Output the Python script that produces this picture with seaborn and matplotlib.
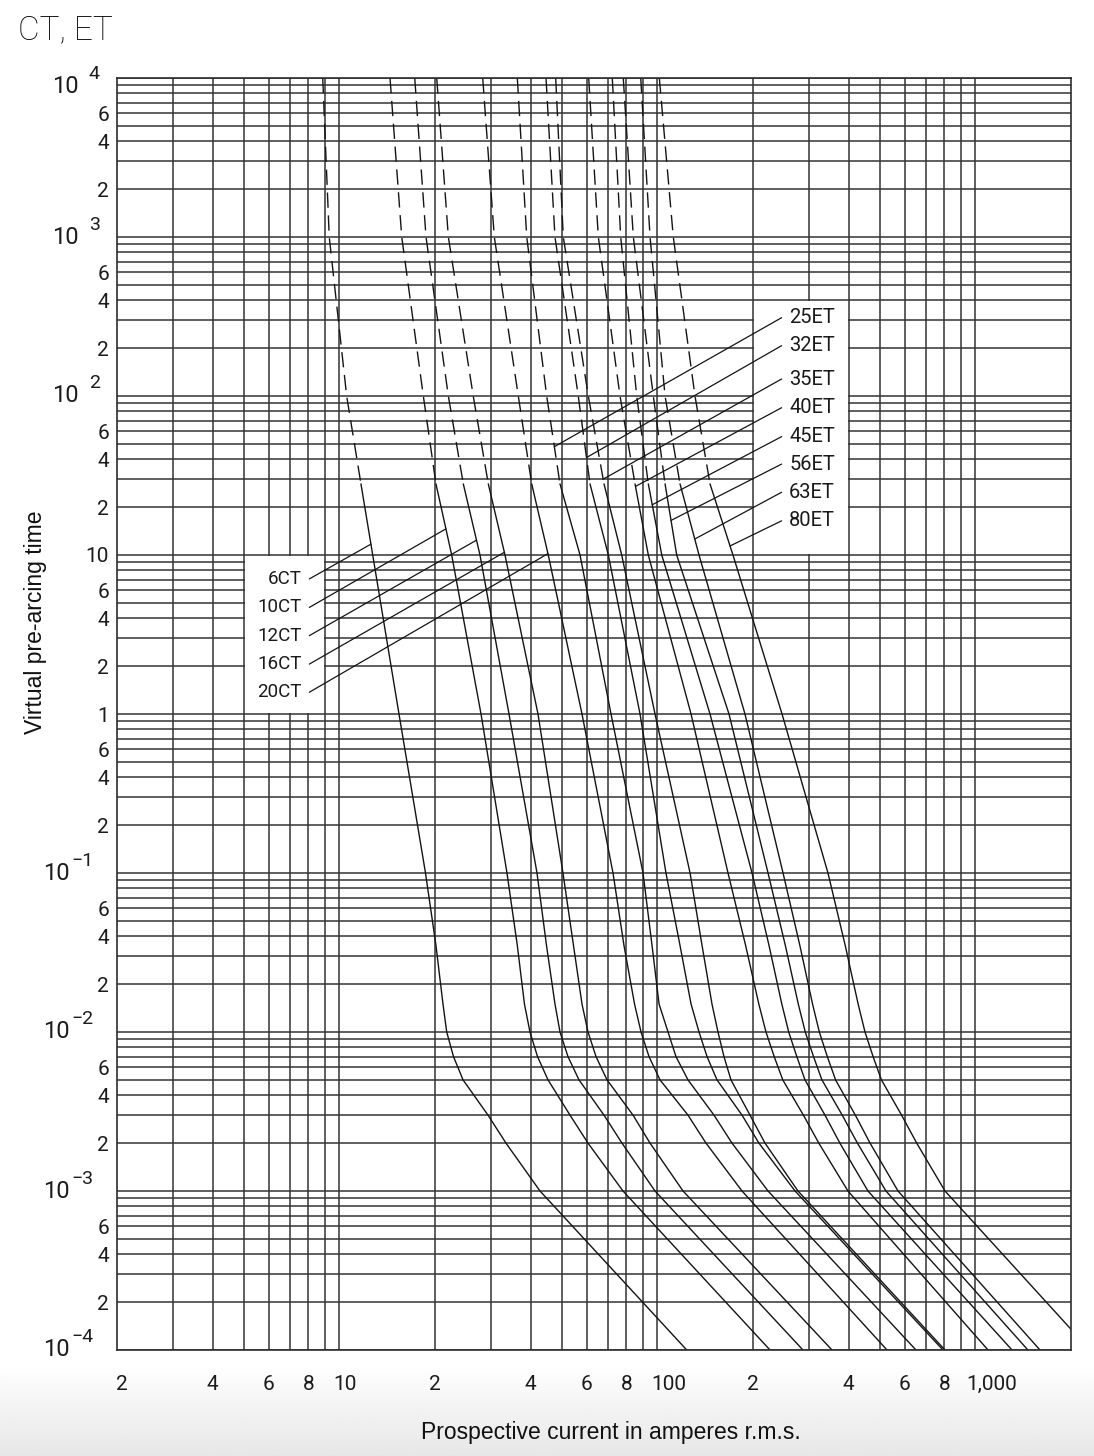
import numpy as np
import pandas as pd
import seaborn as sns
import matplotlib
matplotlib.use("Agg")
import matplotlib.pyplot as plt
from matplotlib.patches import Rectangle
from matplotlib.ticker import FixedLocator, FixedFormatter, NullFormatter

times = [1e4, 1e3, 100, 28, 10, 1, 0.1, 0.035, 0.015, 0.01, 0.007, 0.005, 0.003, 0.002, 0.001, 1e-4]
dash_above = 28  # the curves are dashed for longer times than this

# prospective current (A r.m.s.) of each fuse at those times
ct6 = [8.87, 9.30, 10.55, 11.7, 12.74, 15.41, 18.67, 20.14, 21.19, 21.77, 22.87, 24.5, 29.36, 33.44, 42.78, 123.8]
ct10 = [14.44, 15.72, 18.38, 20.14, 22.57, 27.91, 33.68, 36.3, 38.22, 39.78, 42.02, 45.33, 53.16, 60.56, 78.02, 226.2]
ct12 = [17.27, 18.74, 22.03, 24.55, 27.7, 34.18, 41.86, 44.84, 47.68, 49.44, 52.38, 56.73, 68.0, 77.46, 98.38, 287.2]
ct16 = [20.25, 22.03, 26.38, 29.42, 33.2, 42.16, 50.52, 54.52, 57.98, 60.56, 64.18, 69.5, 83.9, 94.9, 120.5, 354.4]
ct20 = [28.25, 30.73, 36.56, 40.28, 45.42, 57.98, 72.58, 78.58, 84.82, 88.9, 94.2, 102.0, 124.9, 142.3, 184.7, 527.8]
et25 = [36.3, 38.86, 44.9, 49.44, 57.16, 71.54, 90.2, 96.28, 101.3, 108.1, 114.5, 124.9, 150.8, 171.8, 223.0, 651.0]
et32 = [44.68, 47.68, 56.44, 61.44, 70.16, 88.26, 106.5, 117.9, 127.7, 135.3, 143.4, 154.1, 184.7, 208.8, 271.2, 791.6]
et35 = [47.92, 50.64, 60.7, 68.0, 77.3, 98.38, 126.8, 138.3, 148.6, 155.2, 162.1, 170.5, 195.7, 218.2, 277.0, 803.2]
et40 = [60.86, 65.26, 76.36, 85.12, 93.72, 127.7, 166.9, 189.6, 208.6, 219.7, 233.2, 248.1, 288.1, 322.1, 397.8, 1097]
et45 = [72.2, 76.74, 86.18, 93.72, 103.3, 146.5, 198.6, 224.6, 246.4, 259.0, 274.7, 291.4, 336.8, 375.2, 459.8, 1305]
et56 = [78.18, 84.08, 97.18, 105.8, 115.1, 168.1, 223.0, 252.8, 277.6, 292.0, 310.0, 329.4, 381.6, 426.0, 523.8, 1464]
et63 = [88.72, 94.9, 105.8, 117.9, 135.3, 188.7, 248.6, 280.8, 307.8, 323.3, 342.6, 363.6, 419.6, 466.8, 571.6, 1598]
et80 = [101.5, 112.3, 131.4, 146.5, 173.0, 246.8, 344.2, 390.0, 428.2, 450.0, 477.2, 506.8, 586.6, 654.4, 803.2, 2294]

ct_names = ["6CT", "10CT", "12CT", "16CT", "20CT"]
et_names = ["25ET", "32ET", "35ET", "40ET", "45ET", "56ET", "63ET", "80ET"]
curves = [ct6, ct10, ct12, ct16, ct20, et25, et32, et35, et40, et45, et56, et63, et80]

# time on each curve where its label leader touches it
leader_t = [11.7, 14.6, 12.4, 10.4, 10.2, 48, 41, 30, 27, 20.7, 16.5, 12.6, 11.4]
# label heights (s)
ct_label_t = [7.07, 4.68, 3.11, 2.06, 1.37]
et_label_t = [310.8, 207.2, 127.9, 84.4, 55.5, 37.3, 24.8, 16.4]

x_tick_vals = [2, 4, 6, 8, 10, 20, 40, 60, 80, 100, 200, 400, 600, 800, 1000]
x_tick_text = ["2", "4", "6", "8", "10", "2", "4", "6", "8", "100", "2", "4", "6", "8", "1,000"]
y_decades = [1e-4, 1e-3, 1e-2, 1e-1, 1e2, 1e3, 1e4]
y_exponents = ["\u22124", "\u22123", "\u22122", "\u22121", "2", "3", "4"]

# long table: every curve split in a dashed upper part and a solid lower part
rows = []
for name, amps in zip(ct_names + et_names, curves):
    for a, t in zip(amps, times):
        if t >= dash_above:
            rows.append((name + "_top", "dashed", a, t))
        if t <= dash_above:
            rows.append((name + "_low", "solid", a, t))
df = pd.DataFrame(rows, columns=["seg", "part", "current", "time"])

sns.set_style("white")
plt.rcParams["font.family"] = ["Roboto", "DejaVu Sans"]
plt.rcParams["axes.linewidth"] = 1.2
plt.rcParams["axes.edgecolor"] = "#2e2e2e"
ink = "#141414"

fig = plt.figure(figsize=(10.94, 14.56), dpi=100)
ax = fig.add_axes([117 / 1094, 106 / 1456, 954 / 1094, 1272 / 1456])

sns.lineplot(data=df, x="current", y="time", units="seg", estimator=None,
             style="part", dashes={"dashed": (11, 5.5), "solid": ""},
             color=ink, linewidth=1.0, legend=False, sort=False, ax=ax)

ax.set_xscale("log")
ax.set_yscale("log")
ax.set_xlim(2, 2000)
ax.set_ylim(1e-4, 1e4)
ax.set_xlabel("")
ax.set_ylabel("")

# grid lines on every 1..9 step of each decade
ax.xaxis.set_major_locator(FixedLocator([10, 100, 1000]))
ax.xaxis.set_minor_locator(FixedLocator([n * 10 ** k for k in range(0, 3) for n in range(2, 10)
                                         if 2 < n * 10 ** k < 2000]))
ax.xaxis.set_major_formatter(NullFormatter())
ax.xaxis.set_minor_formatter(NullFormatter())

minor_y, minor_y_lbl = [], []
for k in range(-4, 4):
    for n in range(1, 10):
        v = n * 10.0 ** k
        if n == 1 and k not in (0, 1):
            continue
        minor_y.append(v)
        if n == 1:
            minor_y_lbl.append("1" if k == 0 else "10")
        else:
            minor_y_lbl.append(str(n) if n in (2, 4, 6) else "")
ax.yaxis.set_major_locator(FixedLocator(y_decades))
ax.yaxis.set_major_formatter(NullFormatter())
ax.yaxis.set_minor_locator(FixedLocator(minor_y))
ax.yaxis.set_minor_formatter(FixedFormatter(minor_y_lbl))

ax.tick_params(axis="x", which="both", length=0)
ax.tick_params(axis="y", which="both", length=0)
ax.tick_params(axis="y", which="minor", pad=5.8, labelsize=15, colors="#1c1c1c")
ax.grid(True, which="both", axis="both", color="#333333", linewidth=1.1)
ax.set_axisbelow(True)

# decade labels: "10" with a raised exponent, as on the original sheet
for v, e in zip(y_decades, y_exponents):
    neg = e.startswith("\u2212")
    dy = -6.2 if v == 1e4 else 0
    ax.annotate("10", xy=(0, v), xycoords=("axes fraction", "data"),
                xytext=(-33.8 if neg else -27.4, dy), textcoords="offset points",
                ha="right", va="center", fontsize=17, color="#1c1c1c")
    ax.annotate(e, xy=(0, v), xycoords=("axes fraction", "data"),
                xytext=(-32.6 if neg else -20.4, dy + 9.0), textcoords="offset points",
                ha="left", va="center", fontsize=14, color="#1c1c1c")

for v, s in zip(x_tick_vals, x_tick_text):
    if len(s) == 1:
        ha, dx = "center", (3.5 if v == 2 else 0)
    else:
        ha, dx = "left", (-6.5 if s == "1,000" else -4.5)
    ax.annotate(s, xy=(v, 0), xycoords=("data", "axes fraction"), xytext=(dx, -24.5),
                textcoords="offset points", ha=ha, va="center", fontsize=15, color="#1c1c1c")

# white label boxes (they blank the grid behind the labels)
ix, iy = 1.008, 1.016
ax.add_patch(Rectangle((5 * ix, 1 * iy), 9 / ix - 5 * ix, 10 / iy - iy,
                       facecolor="white", edgecolor="none", zorder=1))
ax.add_patch(Rectangle((200 * ix, 10 * iy), 400 / ix - 200 * ix, 400 / iy - 10 * iy,
                       facecolor="white", edgecolor="none", zorder=1))

# leader lines from the labels to their curve
log_t = np.log10(times)[::-1]
for i, amps in enumerate(curves):
    hit_x = 10 ** np.interp(np.log10(leader_t[i]), log_t, np.log10(amps)[::-1])
    if i < len(ct_names):
        lt, x0 = ct_label_t[i], 8.05
        ax.text(7.63, lt, ct_names[i], ha="right", va="center", fontsize=13.5, color="#1a1a1a", zorder=4)
    else:
        lt, x0 = et_label_t[i - len(ct_names)], 246
        ax.text(260, lt, et_names[i - len(ct_names)], ha="left", va="center", fontsize=14.5,
                color="#1a1a1a", zorder=4)
    ax.plot([x0, hit_x], [lt, leader_t[i]], color=ink, linewidth=0.9, zorder=3)

# faint grey band at the bottom of the page
shade = fig.add_axes([0, 0, 1, 93 / 1456], zorder=-5)
shade.imshow(np.linspace(1.0, 0.905, 64).reshape(-1, 1), cmap="gray", vmin=0, vmax=1,
             aspect="auto", interpolation="bilinear")
shade.set_axis_off()

fig.text(18 / 1094, 1 - 39 / 1456, "CT, ET", fontsize=24, fontweight="light",
         ha="left", va="baseline", color="#000000")
fig.text(36 / 1094, 1 - 622 / 1456, "Virtual pre-arcing time", rotation=90, ha="center", va="center",
         fontsize=16.5, fontfamily=["Liberation Sans", "DejaVu Sans"], color="#111111")
fig.text(611 / 1094, 1 - 1432 / 1456, "Prospective current in amperes r.m.s.", ha="center", va="center",
         fontsize=16.5, fontfamily=["Liberation Sans", "DejaVu Sans"], color="#111111")

fig.savefig("out.png", dpi=100)
